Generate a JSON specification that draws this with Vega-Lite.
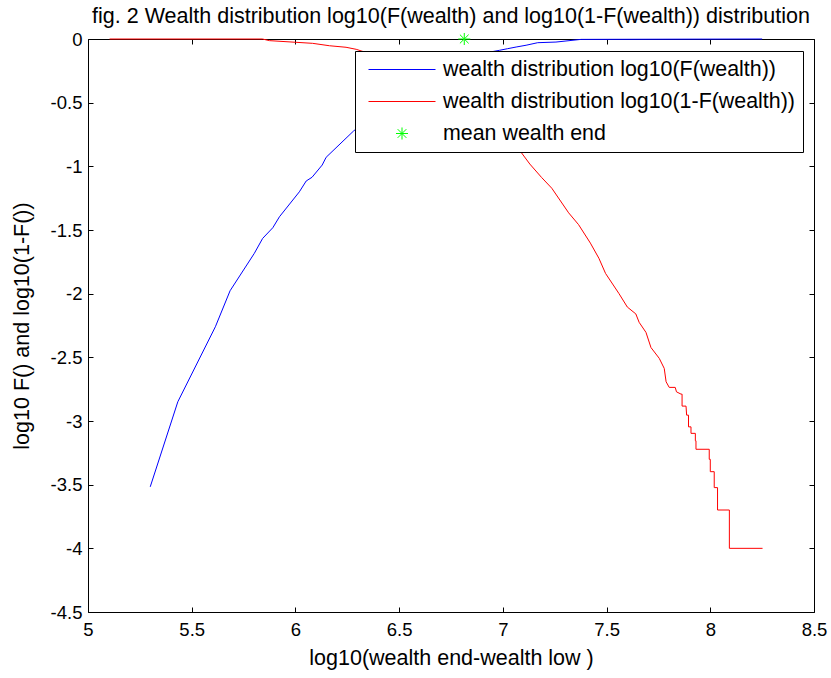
{
  "$schema": "https://vega.github.io/schema/vega-lite/v6.json",
  "width": 726,
  "height": 573,
  "autosize": "none",
  "padding": {"left": 88, "top": 39, "right": 17, "bottom": 66},
  "background": "white",
  "title": {
    "text": "fig. 2 Wealth distribution log10(F(wealth) and log10(1-F(wealth)) distribution",
    "font": "Liberation Sans",
    "fontSize": 21.5,
    "fontWeight": "normal",
    "color": "black",
    "anchor": "middle",
    "baseline": "alphabetic",
    "offset": 18,
    "dy": 32
  },
  "config": {
    "view": {"stroke": null},
    "axis": {
      "domainColor": "black",
      "domainWidth": 1,
      "tickColor": "black",
      "tickWidth": 1,
      "tickSize": -5,
      "labelColor": "black",
      "titleColor": "black",
      "grid": false,
      "labelFont": "Liberation Sans",
      "titleFont": "Liberation Sans",
      "labelFontSize": 18.5,
      "titleFontSize": 21.5,
      "titleFontWeight": "normal",
      "labelFlush": false,
      "labelOverlap": false
    },
    "legend": {
      "labelFont": "Liberation Sans",
      "labelFontSize": 21.4,
      "labelColor": "black",
      "labelLimit": 0
    }
  },
  "resolve": {"axis": {"x": "independent", "y": "independent"}},
  "layer": [
    {
      "data": {
        "values": [
          {"series": "wealth distribution log10(F(wealth))", "i": 1, "x": 5.300, "y": -3.517},
          {"series": "wealth distribution log10(F(wealth))", "i": 2, "x": 5.433, "y": -2.849},
          {"series": "wealth distribution log10(F(wealth))", "i": 3, "x": 5.614, "y": -2.26},
          {"series": "wealth distribution log10(F(wealth))", "i": 4, "x": 5.685, "y": -1.977},
          {"series": "wealth distribution log10(F(wealth))", "i": 5, "x": 5.802, "y": -1.683},
          {"series": "wealth distribution log10(F(wealth))", "i": 6, "x": 5.842, "y": -1.566},
          {"series": "wealth distribution log10(F(wealth))", "i": 7, "x": 5.891, "y": -1.482},
          {"series": "wealth distribution log10(F(wealth))", "i": 8, "x": 5.923, "y": -1.396},
          {"series": "wealth distribution log10(F(wealth))", "i": 9, "x": 6.019, "y": -1.2},
          {"series": "wealth distribution log10(F(wealth))", "i": 10, "x": 6.052, "y": -1.115},
          {"series": "wealth distribution log10(F(wealth))", "i": 11, "x": 6.08, "y": -1.086},
          {"series": "wealth distribution log10(F(wealth))", "i": 12, "x": 6.129, "y": -0.99},
          {"series": "wealth distribution log10(F(wealth))", "i": 13, "x": 6.148, "y": -0.929},
          {"series": "wealth distribution log10(F(wealth))", "i": 14, "x": 6.28, "y": -0.723},
          {"series": "wealth distribution log10(F(wealth))", "i": 15, "x": 6.45, "y": -0.5},
          {"series": "wealth distribution log10(F(wealth))", "i": 16, "x": 6.6, "y": -0.34},
          {"series": "wealth distribution log10(F(wealth))", "i": 17, "x": 6.75, "y": -0.2},
          {"series": "wealth distribution log10(F(wealth))", "i": 18, "x": 6.88, "y": -0.12},
          {"series": "wealth distribution log10(F(wealth))", "i": 19, "x": 6.983, "y": -0.089},
          {"series": "wealth distribution log10(F(wealth))", "i": 20, "x": 7.023, "y": -0.076},
          {"series": "wealth distribution log10(F(wealth))", "i": 21, "x": 7.064, "y": -0.063},
          {"series": "wealth distribution log10(F(wealth))", "i": 22, "x": 7.112, "y": -0.049},
          {"series": "wealth distribution log10(F(wealth))", "i": 23, "x": 7.168, "y": -0.029},
          {"series": "wealth distribution log10(F(wealth))", "i": 24, "x": 7.256, "y": -0.024},
          {"series": "wealth distribution log10(F(wealth))", "i": 25, "x": 7.377, "y": -0.003},
          {"series": "wealth distribution log10(F(wealth))", "i": 26, "x": 8.25, "y": 0},
          {"series": "wealth distribution log10(1-F(wealth))", "i": 1, "x": 5.104, "y": 0},
          {"series": "wealth distribution log10(1-F(wealth))", "i": 2, "x": 5.841, "y": 0},
          {"series": "wealth distribution log10(1-F(wealth))", "i": 3, "x": 5.875, "y": -0.013},
          {"series": "wealth distribution log10(1-F(wealth))", "i": 4, "x": 6.003, "y": -0.026},
          {"series": "wealth distribution log10(1-F(wealth))", "i": 5, "x": 6.083, "y": -0.034},
          {"series": "wealth distribution log10(1-F(wealth))", "i": 6, "x": 6.164, "y": -0.053},
          {"series": "wealth distribution log10(1-F(wealth))", "i": 7, "x": 6.244, "y": -0.065},
          {"series": "wealth distribution log10(1-F(wealth))", "i": 8, "x": 6.293, "y": -0.081},
          {"series": "wealth distribution log10(1-F(wealth))", "i": 9, "x": 6.5, "y": -0.19},
          {"series": "wealth distribution log10(1-F(wealth))", "i": 10, "x": 6.7, "y": -0.36},
          {"series": "wealth distribution log10(1-F(wealth))", "i": 11, "x": 6.9, "y": -0.61},
          {"series": "wealth distribution log10(1-F(wealth))", "i": 12, "x": 7.088, "y": -0.89},
          {"series": "wealth distribution log10(1-F(wealth))", "i": 13, "x": 7.13, "y": -0.982},
          {"series": "wealth distribution log10(1-F(wealth))", "i": 14, "x": 7.187, "y": -1.088},
          {"series": "wealth distribution log10(1-F(wealth))", "i": 15, "x": 7.236, "y": -1.172},
          {"series": "wealth distribution log10(1-F(wealth))", "i": 16, "x": 7.317, "y": -1.365},
          {"series": "wealth distribution log10(1-F(wealth))", "i": 17, "x": 7.365, "y": -1.458},
          {"series": "wealth distribution log10(1-F(wealth))", "i": 18, "x": 7.422, "y": -1.603},
          {"series": "wealth distribution log10(1-F(wealth))", "i": 19, "x": 7.463, "y": -1.722},
          {"series": "wealth distribution log10(1-F(wealth))", "i": 20, "x": 7.495, "y": -1.841},
          {"series": "wealth distribution log10(1-F(wealth))", "i": 21, "x": 7.56, "y": -2.0},
          {"series": "wealth distribution log10(1-F(wealth))", "i": 22, "x": 7.6, "y": -2.105},
          {"series": "wealth distribution log10(1-F(wealth))", "i": 23, "x": 7.641, "y": -2.159},
          {"series": "wealth distribution log10(1-F(wealth))", "i": 24, "x": 7.657, "y": -2.225},
          {"series": "wealth distribution log10(1-F(wealth))", "i": 25, "x": 7.69, "y": -2.304},
          {"series": "wealth distribution log10(1-F(wealth))", "i": 26, "x": 7.714, "y": -2.423},
          {"series": "wealth distribution log10(1-F(wealth))", "i": 27, "x": 7.754, "y": -2.508},
          {"series": "wealth distribution log10(1-F(wealth))", "i": 28, "x": 7.778, "y": -2.587},
          {"series": "wealth distribution log10(1-F(wealth))", "i": 29, "x": 7.787, "y": -2.692},
          {"series": "wealth distribution log10(1-F(wealth))", "i": 30, "x": 7.802, "y": -2.736},
          {"series": "wealth distribution log10(1-F(wealth))", "i": 31, "x": 7.831, "y": -2.736},
          {"series": "wealth distribution log10(1-F(wealth))", "i": 32, "x": 7.837, "y": -2.771},
          {"series": "wealth distribution log10(1-F(wealth))", "i": 33, "x": 7.859, "y": -2.789},
          {"series": "wealth distribution log10(1-F(wealth))", "i": 34, "x": 7.864, "y": -2.789},
          {"series": "wealth distribution log10(1-F(wealth))", "i": 35, "x": 7.864, "y": -2.883},
          {"series": "wealth distribution log10(1-F(wealth))", "i": 36, "x": 7.883, "y": -2.883},
          {"series": "wealth distribution log10(1-F(wealth))", "i": 37, "x": 7.886, "y": -2.954},
          {"series": "wealth distribution log10(1-F(wealth))", "i": 38, "x": 7.895, "y": -2.954},
          {"series": "wealth distribution log10(1-F(wealth))", "i": 39, "x": 7.895, "y": -3.046},
          {"series": "wealth distribution log10(1-F(wealth))", "i": 40, "x": 7.907, "y": -3.046},
          {"series": "wealth distribution log10(1-F(wealth))", "i": 41, "x": 7.907, "y": -3.097},
          {"series": "wealth distribution log10(1-F(wealth))", "i": 42, "x": 7.928, "y": -3.097},
          {"series": "wealth distribution log10(1-F(wealth))", "i": 43, "x": 7.928, "y": -3.155},
          {"series": "wealth distribution log10(1-F(wealth))", "i": 44, "x": 7.931, "y": -3.155},
          {"series": "wealth distribution log10(1-F(wealth))", "i": 45, "x": 7.931, "y": -3.222},
          {"series": "wealth distribution log10(1-F(wealth))", "i": 46, "x": 7.995, "y": -3.222},
          {"series": "wealth distribution log10(1-F(wealth))", "i": 47, "x": 7.995, "y": -3.301},
          {"series": "wealth distribution log10(1-F(wealth))", "i": 48, "x": 8.0, "y": -3.301},
          {"series": "wealth distribution log10(1-F(wealth))", "i": 49, "x": 8.0, "y": -3.398},
          {"series": "wealth distribution log10(1-F(wealth))", "i": 50, "x": 8.019, "y": -3.398},
          {"series": "wealth distribution log10(1-F(wealth))", "i": 51, "x": 8.019, "y": -3.523},
          {"series": "wealth distribution log10(1-F(wealth))", "i": 52, "x": 8.035, "y": -3.523},
          {"series": "wealth distribution log10(1-F(wealth))", "i": 53, "x": 8.035, "y": -3.699},
          {"series": "wealth distribution log10(1-F(wealth))", "i": 54, "x": 8.092, "y": -3.699},
          {"series": "wealth distribution log10(1-F(wealth))", "i": 55, "x": 8.092, "y": -4.0},
          {"series": "wealth distribution log10(1-F(wealth))", "i": 56, "x": 8.252, "y": -4.0}
        ]
      },
      "mark": {"type": "line", "strokeWidth": 1},
      "encoding": {
        "x": {
          "field": "x", "type": "quantitative",
          "scale": {"domain": [5, 8.5], "nice": false, "zero": false},
          "axis": {
            "orient": "bottom",
            "title": "log10(wealth end-wealth low )",
            "values": [5, 5.5, 6, 6.5, 7, 7.5, 8, 8.5],
            "labelExpr": "'' + datum.value",
            "labelPadding": 13,
            "titlePadding": 9
          }
        },
        "y": {
          "field": "y", "type": "quantitative",
          "scale": {"domain": [-4.5, 0], "nice": false, "zero": false},
          "axis": {
            "orient": "left",
            "title": "log10 F() and log10(1-F())",
            "values": [0, -0.5, -1, -1.5, -2, -2.5, -3, -3.5, -4, -4.5],
            "labelExpr": "'' + datum.value",
            "labelPadding": 11,
            "titlePadding": 17
          }
        },
        "color": {
          "field": "series", "type": "nominal",
          "scale": {
            "domain": ["wealth distribution log10(F(wealth))", "wealth distribution log10(1-F(wealth))", "mean wealth end"],
            "range": ["#0000ff", "#ff0000", "#00ff00"]
          },
          "legend": {
            "orient": "none", "legendX": 267, "legendY": 12, "title": null,
            "fillColor": "white", "strokeColor": "black", "padding": 7.5,
            "symbolSize": 4489, "symbolStrokeWidth": 1, "clipHeight": 22,
            "rowPadding": 10, "symbolOffset": 5.5, "labelOffset": 7,
            "encode": {"symbols": {"update": {"stroke": {"scale": "color", "field": "value"}}}}
          }
        },
        "order": {"field": "i", "type": "quantitative"}
      }
    },
    {
      "data": {"values": [{"series": "mean wealth end", "x": 6.814, "y": 0}]},
      "mark": {"type": "point", "filled": false, "size": 4489, "strokeWidth": 1, "opacity": 1},
      "encoding": {
        "x": {
          "field": "x", "type": "quantitative",
          "scale": {"domain": [5, 8.5], "nice": false, "zero": false},
          "axis": {"orient": "top", "title": null, "labels": false, "values": [5, 5.5, 6, 6.5, 7, 7.5, 8, 8.5]}
        },
        "y": {
          "field": "y", "type": "quantitative",
          "scale": {"domain": [-4.5, 0], "nice": false, "zero": false},
          "axis": {"orient": "right", "title": null, "labels": false, "values": [0, -0.5, -1, -1.5, -2, -2.5, -3, -3.5, -4, -4.5]}
        },
        "color": {
          "field": "series", "type": "nominal",
          "scale": {
            "domain": ["wealth distribution log10(F(wealth))", "wealth distribution log10(1-F(wealth))", "mean wealth end"],
            "range": ["#0000ff", "#ff0000", "#00ff00"]
          },
          "legend": {
            "orient": "none", "legendX": 267, "legendY": 12, "title": null,
            "fillColor": "white", "strokeColor": "black", "padding": 7.5,
            "symbolSize": 4489, "symbolStrokeWidth": 1, "clipHeight": 22,
            "rowPadding": 10, "symbolOffset": 5.5, "labelOffset": 7,
            "encode": {"symbols": {"update": {"stroke": {"scale": "color", "field": "value"}}}}
          }
        },
        "shape": {
          "field": "series", "type": "nominal",
          "scale": {
            "domain": ["wealth distribution log10(F(wealth))", "wealth distribution log10(1-F(wealth))", "mean wealth end"],
            "range": ["stroke", "stroke", "M-0.18,0L0.18,0M0,-0.18L0,0.18M-0.13,-0.13L0.13,0.13M-0.13,0.13L0.13,-0.13"]
          },
          "legend": {
            "orient": "none", "legendX": 267, "legendY": 12, "title": null,
            "fillColor": "white", "strokeColor": "black", "padding": 7.5,
            "symbolSize": 4489, "symbolStrokeWidth": 1, "clipHeight": 22,
            "rowPadding": 10, "symbolOffset": 5.5, "labelOffset": 7,
            "encode": {"symbols": {"update": {"stroke": {"scale": "color", "field": "value"}}}}
          }
        }
      }
    }
  ]
}
